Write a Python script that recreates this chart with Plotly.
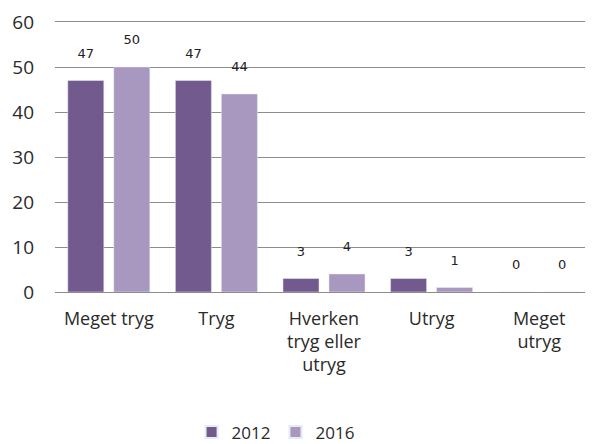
import plotly.graph_objects as go

categories = ["Meget tryg", "Tryg", "Hverken<br>tryg eller<br>utryg", "Utryg", "Meget<br>utryg"]
values_2012 = [47, 47, 3, 3, 0]
values_2016 = [50, 44, 4, 1, 0]
series_names = ["2012", "2016"]
tick_vals = [0, 10, 20, 30, 40, 50, 60]

label_font = dict(family="DejaVu Sans", size=13, color="#222222")

fig = go.Figure()
fig.add_trace(go.Bar(x=categories, y=values_2012, name=series_names[0],
                     marker=dict(color="#725A8F"),
                     text=[str(v) for v in values_2012], texttemplate="%{text}<br> ",
                     textposition="outside", textfont=label_font, cliponaxis=False))
fig.add_trace(go.Bar(x=categories, y=values_2016, name=series_names[1],
                     marker=dict(color="#A897BE"),
                     text=[str(v) for v in values_2016], texttemplate="%{text}<br> ",
                     textposition="outside", textfont=label_font, cliponaxis=False))

# page body has an 8px margin, so the figure is 8px smaller and offset
fig.update_layout(
    width=585, height=436,
    margin=dict(l=47, r=0, t=14, b=152, autoexpand=False),
    paper_bgcolor="white", plot_bgcolor="white",
    barmode="group", bargap=0.145, bargroupgap=0.217,
    font=dict(family="Open Sans", size=18, color="#2a2a2a"),
    showlegend=True,
    legend=dict(orientation="h", x=0.41, xanchor="center", y=-0.52, yanchor="middle",
                font=dict(size=17), itemwidth=30, traceorder="normal",
                itemsizing="constant"),
    xaxis=dict(showgrid=False, showline=True, mirror=True, linecolor="#8c8c8c", linewidth=1,
               tickfont=dict(size=18), ticks="", automargin=False, ticklabelstandoff=10),
    yaxis=dict(range=[0, 60], tickvals=tick_vals, showgrid=True, gridcolor="#8c8c8c",
               gridwidth=1, zeroline=False, showline=False, ticks="",
               ticklabelstandoff=20, tickfont=dict(size=19), automargin=False),
    uniformtext=dict(mode=False),
)

fig.write_html("out.html")
